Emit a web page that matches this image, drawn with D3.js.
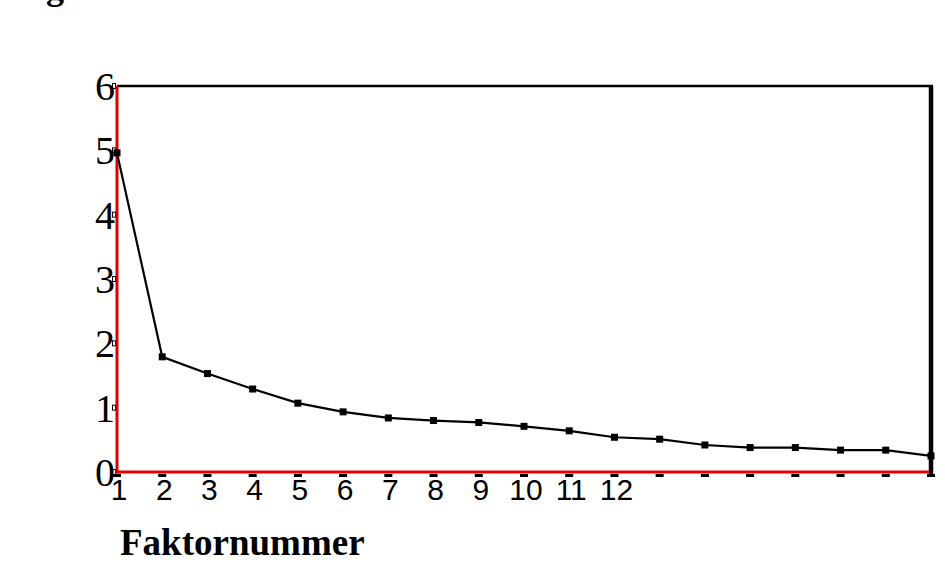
<!DOCTYPE html>
<html><head><meta charset="utf-8">
<script src="https://cdn.jsdelivr.net/npm/d3@7"></script>
<style>body{margin:0;background:#fff}svg{display:block}</style>
</head><body>
<svg id="c" width="945" height="570"></svg>
<script>
const factors = d3.range(1, 20);
const eigenvalues = [4.96, 1.79, 1.53, 1.29, 1.07, 0.935, 0.84, 0.80, 0.77, 0.71, 0.64, 0.54, 0.51, 0.42, 0.38, 0.38, 0.34, 0.34, 0.25];
const xTickLabels = ["1","2","3","4","5","6","7","8","9","10","11","12","","","","","","",""];
const yTicks = [0, 1, 2, 3, 4, 5, 6];
const xTitle = "Faktornummer";

const svg = d3.select("#c");
const x = d3.scaleLinear().domain([1, 19]).range([117, 931]);
const y = d3.scaleLinear().domain([0, 6]).range([472, 86]);

// top-left cut-off caption fragment
svg.append("text").attr("x", 46).attr("y", -1)
  .attr("font-family", "Liberation Serif, Times New Roman, serif")
  .attr("font-weight", "bold").attr("font-size", 36).text("g");

// frame top and right
svg.append("line").attr("x1", x(1)).attr("x2", x(19)+2).attr("y1", y(6)).attr("y2", y(6))
  .attr("stroke", "#000").attr("stroke-width", 2.5);
svg.append("line").attr("x1", x(19)).attr("x2", x(19)).attr("y1", y(6)).attr("y2", y(0)+4)
  .attr("stroke", "#000").attr("stroke-width", 4.5);

// x tick marks
svg.append("g").selectAll("rect").data(factors).join("rect")
  .attr("x", d => x(d) - 4).attr("y", y(0) + 2).attr("width", 8).attr("height", 3)
  .attr("fill", "#000");

// y tick marks (hollow small rects)
svg.append("g").selectAll("rect").data(yTicks).join("rect")
  .attr("x", x(1) - 4.5).attr("y", d => y(d) - 2.5).attr("width", 3).attr("height", 5)
  .attr("fill", "#fff").attr("stroke", "#000").attr("stroke-width", 1);

// red axes
svg.append("line").attr("x1", x(1)).attr("x2", x(1)).attr("y1", y(6)).attr("y2", y(0)+1.5)
  .attr("stroke", "#e00000").attr("stroke-width", 3);
svg.append("line").attr("x1", x(1)-1.5).attr("x2", x(19)-2).attr("y1", y(0)).attr("y2", y(0))
  .attr("stroke", "#e00000").attr("stroke-width", 3);

// y labels
svg.append("g").selectAll("text").data(yTicks).join("text")
  .attr("x", x(1) - 2).attr("y", d => y(d) + 14)
  .attr("text-anchor", "end")
  .attr("font-family", "Liberation Serif, Times New Roman, serif")
  .attr("font-size", 40).text(d => d);

// x labels
svg.append("g").selectAll("text").data(factors).join("text")
  .attr("x", d => x(d) + 2).attr("y", y(0) + 28)
  .attr("text-anchor", "middle")
  .attr("font-family", "Liberation Sans, Arial, sans-serif")
  .attr("font-size", 30).text((d, i) => xTickLabels[i]);

// line
const line = d3.line().x((d, i) => x(factors[i])).y(d => y(d));
svg.append("path").datum(eigenvalues).attr("d", line)
  .attr("fill", "none").attr("stroke", "#000").attr("stroke-width", 2.2);

// markers
svg.append("g").selectAll("rect").data(eigenvalues).join("rect")
  .attr("x", (d, i) => x(factors[i]) - 3.5).attr("y", d => y(d) - 3.5)
  .attr("width", 7).attr("height", 7).attr("fill", "#000");

// x title
svg.append("text").attr("x", 120).attr("y", 555)
  .attr("font-family", "Liberation Serif, Times New Roman, serif")
  .attr("font-weight", "bold").attr("font-size", 37).text(xTitle);
</script>
</body></html>
